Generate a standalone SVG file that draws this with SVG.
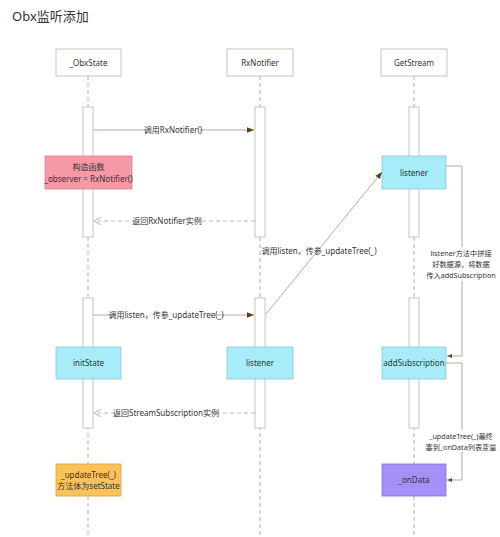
<svg xmlns="http://www.w3.org/2000/svg" width="500" height="537" viewBox="0 0 500 537">
<style>
text{font-family:"Noto Sans","Noto Sans CJK SC",sans-serif;fill:#333;}
.t{font-size:8px;text-anchor:middle;}
.s{font-size:7.2px;text-anchor:middle;}
.head{fill:#fff;stroke:#c8c4b8;stroke-width:1;}
.bar{fill:#fff;stroke:#c8c4b8;stroke-width:1;}
.life{stroke:#b8b0a0;stroke-width:1;stroke-dasharray:4,3;fill:none;}
.msg{stroke:#a09888;stroke-width:0.8;fill:none;}
.ret{stroke:#b0a898;stroke-width:0.8;stroke-dasharray:4,3;fill:none;}
.bg{fill:#fff;}
</style>
<defs>
<marker id="fa" viewBox="0 0 10 10" refX="10" refY="5" markerWidth="7" markerHeight="7" orient="auto" markerUnits="userSpaceOnUse"><path d="M0,1 L10,5 L0,9 z" fill="#5a4010"/></marker>
<marker id="oa" viewBox="0 0 10 10" refX="10" refY="5" markerWidth="8" markerHeight="8" orient="auto" markerUnits="userSpaceOnUse"><path d="M1,0 L10,5 L1,10" fill="none" stroke="#b0a898" stroke-width="1"/></marker>
<marker id="sa" viewBox="0 0 10 10" refX="10" refY="5" markerWidth="5" markerHeight="5" orient="auto" markerUnits="userSpaceOnUse"><path d="M0,1 L10,5 L0,9 z" fill="#5a5040"/></marker>
</defs>
<rect width="500" height="537" fill="#fff"/>
<text x="12" y="21" style="font-size:13px;">Obx监听添加</text>

<g id="lifelines">
<line class="life" x1="88" y1="76" x2="88" y2="537"/>
<line class="life" x1="260" y1="76" x2="260" y2="537"/>
<line class="life" x1="414" y1="76" x2="414" y2="537"/>
</g>

<g id="obxstate"><rect class="head" x="56" y="49" width="65" height="27"/><text class="t" x="88.5" y="65.5">_ObxState</text></g>
<g id="rxnotifier"><rect class="head" x="227" y="49" width="66" height="27"/><text class="t" x="260" y="65.5">RxNotifier</text></g>
<g id="getstream"><rect class="head" x="381" y="49" width="66" height="27"/><text class="t" x="414" y="65.5">GetStream</text></g>

<g id="bars">
<rect class="bar" x="83" y="107" width="10" height="130"/>
<rect class="bar" x="255" y="107" width="10" height="130"/>
<rect class="bar" x="409" y="107" width="10" height="130"/>
<rect class="bar" x="83" y="298" width="10" height="130"/>
<rect class="bar" x="255" y="298" width="10" height="130"/>
<rect class="bar" x="409" y="298" width="10" height="130"/>
</g>

<g id="ctor"><rect x="45" y="156" width="87" height="33" fill="#f699a6" stroke="#d88090" stroke-width="0.8"/><text class="t" x="88.5" y="170">构造函数</text><text class="t" x="88.5" y="182">_observer = RxNotifier()</text></g>
<g id="listener1"><rect x="382" y="156" width="64" height="33" fill="#a8ecfa" stroke="#88c8d8" stroke-width="0.8"/><text class="t" x="414" y="176">listener</text></g>
<g id="initstate"><rect x="56" y="347" width="65" height="32" fill="#a8ecfa" stroke="#88c8d8" stroke-width="0.8"/><text class="t" x="88.5" y="366">initState</text></g>
<g id="listener2"><rect x="227" y="347" width="66" height="32" fill="#a8ecfa" stroke="#88c8d8" stroke-width="0.8"/><text class="t" x="260" y="366">listener</text></g>
<g id="addsub"><rect x="382" y="347" width="64" height="32" fill="#a8ecfa" stroke="#88c8d8" stroke-width="0.8"/><text class="t" x="414" y="366">addSubscription</text></g>
<g id="updatetree"><rect x="56" y="464" width="65" height="32" fill="#fcc25a" stroke="#d8a040" stroke-width="0.8"/><text class="t" x="88.5" y="478">_updateTree(_)</text><text class="t" x="88.5" y="489">方法体为setState</text></g>
<g id="ondata"><rect x="382" y="464" width="64" height="32" fill="#a68ff6" stroke="#8870d8" stroke-width="0.8"/><text class="t" x="414" y="483">_onData</text></g>

<g id="connectors">
<line class="msg" x1="93" y1="130" x2="254" y2="130" marker-end="url(#fa)"/>
<rect class="bg" x="146" y="124" width="54" height="11"/>
<text class="t" x="173" y="133">调用RxNotifier()</text>

<line class="ret" x1="255" y1="221" x2="94" y2="221" marker-end="url(#oa)"/>
<rect class="bg" x="135" y="215" width="64" height="11"/>
<text class="t" x="167" y="224">返回RxNotifier实例</text>

<line class="msg" x1="266" y1="314" x2="382" y2="172" marker-end="url(#fa)"/>
<text class="t" x="319" y="254">调用listen，传参_updateTree(_)</text>

<polyline class="msg" points="446,166 462,166 462,356 447,356" marker-end="url(#sa)"/>
<rect class="bg" x="428" y="247" width="68" height="34"/>
<text class="s" x="461" y="256">listener方法中拼接</text>
<text class="s" x="461" y="267">好数据源，将数据</text>
<text class="s" x="461" y="278">传入addSubscription</text>

<line class="msg" x1="93" y1="315" x2="254" y2="315" marker-end="url(#fa)"/>
<rect class="bg" x="116" y="309" width="101" height="11"/>
<text class="t" x="166" y="318">调用listen，传参_updateTree(_)</text>

<line class="ret" x1="255" y1="413" x2="94" y2="413" marker-end="url(#oa)"/>
<rect class="bg" x="119" y="407" width="95" height="11"/>
<text class="t" x="166" y="416">返回StreamSubscription实例</text>

<polyline class="msg" points="446,363 462,363 462,480 447,480" marker-end="url(#sa)"/>
<rect class="bg" x="429" y="430" width="66" height="22"/>
<text class="s" x="461" y="439">_updateTree(_)最终</text>
<text class="s" x="461" y="450">塞到_onData列表变量</text>
</g>
</svg>
